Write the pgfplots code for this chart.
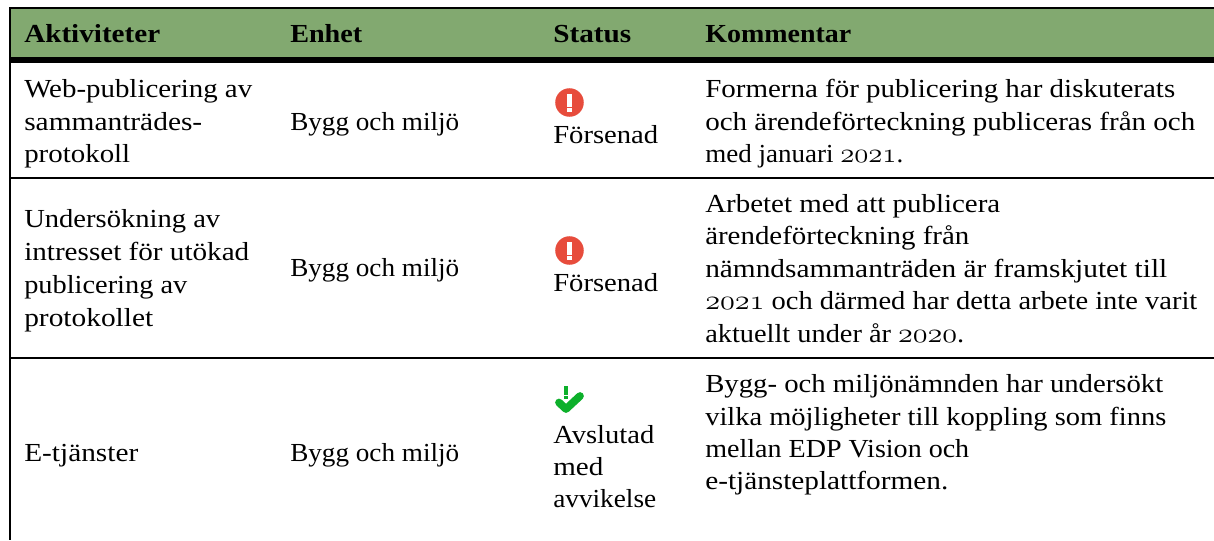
\documentclass[border=0pt]{standalone}
\usepackage{pgfplots}
\usepackage{graphicx}
\usepackage{fontspec}
\pgfplotsset{compat=1.18}
\setmainfont{Liberation Serif}
\definecolor{hdr}{HTML}{82A970}
\definecolor{redi}{HTML}{E74C3C}
\definecolor{grn}{HTML}{0DB02B}
\newcommand{\os}[1]{{\fontencoding{OML}\fontfamily{cmm}\fontseries{m}\fontshape{it}\selectfont #1}}
\newsavebox\mybox
\newcommand{\fitw}[3]{\sbox\mybox{#1#3}\pgfmathsetmacro\sx{#2*0.75/\wd\mybox}\scalebox{\sx}[1]{\usebox\mybox}}
\newcommand{\tf}{\fontsize{19.5pt}{20pt}\selectfont}
\newcommand{\T}[4]{\node[anchor=base west,inner sep=0pt,text=black] at (axis cs:#1,#2) {\fitw{\tf}{\the\numexpr#3-#1\relax}{#4}};}
\newcommand{\B}[4]{\node[anchor=base west,inner sep=0pt,text=black] at (axis cs:#1,#2) {\fitw{\tf\bfseries}{\the\numexpr#3-#1\relax}{#4}};}
\begin{document}
\begin{tikzpicture}
\begin{axis}[hide axis,scale only axis,width=910.5pt,height=405pt,xmin=0,xmax=1214,ymin=0,ymax=540,y dir=reverse,clip=false]
\addplot[fill=white,draw=none] coordinates {(0,0)(1214,0)(1214,540)(0,540)};
\addplot[fill=hdr,draw=none] coordinates {(10,9)(1214,9)(1214,57)(10,57)};
\addplot[fill=black,draw=none] coordinates {(9,7)(1214,7)(1214,9)(9,9)};
\addplot[fill=black,draw=none] coordinates {(9,57)(1214,57)(1214,63)(9,63)};
\addplot[fill=black,draw=none] coordinates {(9,176.8)(1214,176.8)(1214,179.2)(9,179.2)};
\addplot[fill=black,draw=none] coordinates {(9,356.8)(1214,356.8)(1214,359.2)(9,359.2)};
\addplot[fill=black,draw=none] coordinates {(9,7)(11,7)(11,540)(9,540)};
\B{24}{42}{160}{Aktiviteter}
\B{290}{42}{362}{Enhet}
\B{553}{42}{631}{Status}
\B{705}{42}{851}{Kommentar}
\T{24}{97}{252}{Web-publicering av}
\T{24}{130}{202}{sammanträdes-}
\T{24}{162}{130}{protokoll}
\T{290}{130}{459}{Bygg och miljö}
\T{553}{143}{658}{Försenad}
\T{705}{97}{1175}{Formerna för publicering har diskuterats}
\T{705}{130}{1195}{och ärendeförteckning publiceras från och}
\T{705}{162}{903}{med januari \os{2021}.}
\T{24}{227}{220}{Undersökning av}
\T{24}{260}{249}{intresset för utökad}
\T{24}{293}{187}{publicering av}
\T{24}{326}{153}{protokollet}
\T{290}{276}{459}{Bygg och miljö}
\T{553}{291}{658}{Försenad}
\T{705}{212}{1000}{Arbetet med att publicera}
\T{705}{244}{969}{ärendeförteckning från}
\T{705}{277}{1167}{nämndsammanträden är framskjutet till}
\T{705}{309}{1197}{\os{2021} och därmed har detta arbete inte varit}
\T{705}{342}{964}{aktuellt under år \os{2020}.}
\T{24}{461}{138}{E-tjänster}
\T{290}{461}{459}{Bygg och miljö}
\T{553}{443}{654}{Avslutad}
\T{553}{475}{603}{med}
\T{553}{507}{656}{avvikelse}
\T{705}{392}{1163}{Bygg- och miljönämnden har undersökt}
\T{705}{425}{1166}{vilka möjligheter till koppling som finns}
\T{705}{457}{969}{mellan EDP Vision och}
\T{705}{489}{948}{e-tjänsteplattformen.}
\fill[redi] (axis cs:569.5,102.5) circle[radius=10.7pt];
\fill[white] (axis cs:567,94) rectangle (axis cs:572,107);
\fill[white] (axis cs:567,108) rectangle (axis cs:572,112);
\fill[redi] (axis cs:569.5,250.5) circle[radius=10.7pt];
\fill[white] (axis cs:567,242) rectangle (axis cs:572,255);
\fill[white] (axis cs:567,256) rectangle (axis cs:572,260);
\addplot[grn,line width=5.8pt,line cap=round,line join=round] coordinates {(559,402.5)(566,409)(580,396)};
\addplot[fill=grn,draw=none] coordinates {(564,386)(568,386)(568,395)(564,395)};
\addplot[fill=grn,draw=none] coordinates {(564,396)(568,396)(568,398.5)(564,398.5)};
\end{axis}
\end{tikzpicture}
\end{document}
